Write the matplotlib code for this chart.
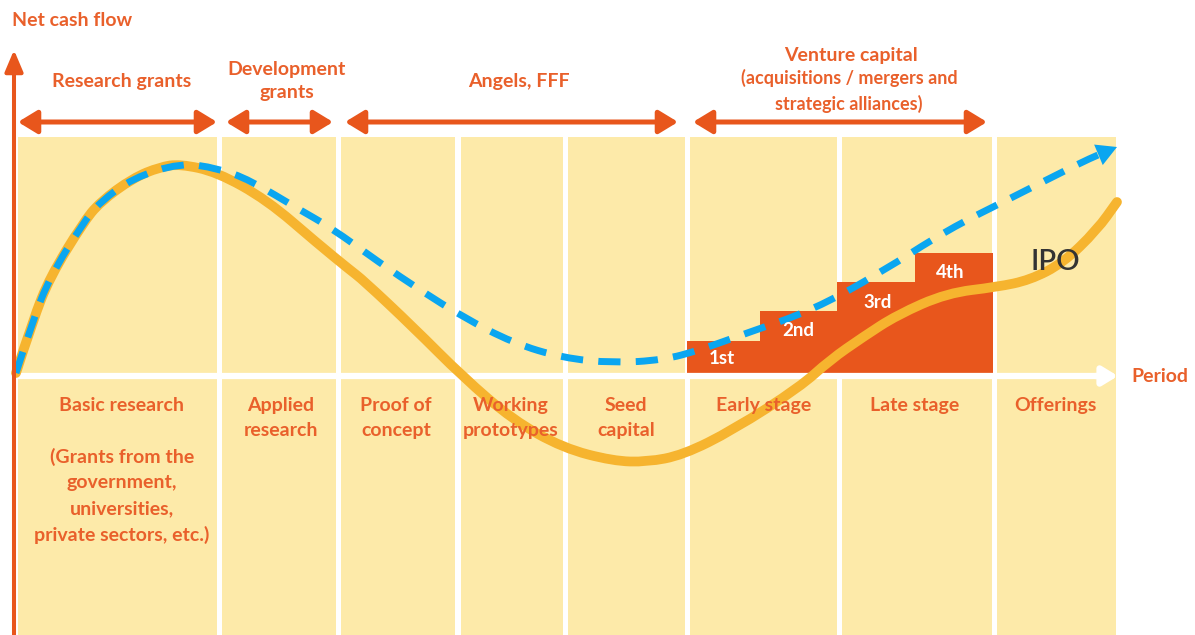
import matplotlib.pyplot as plt
from matplotlib.patches import Rectangle, FancyArrowPatch, PathPatch
from matplotlib.path import Path
import numpy as np

plt.rcParams['font.family'] = ['Lato', 'DejaVu Sans']

ORANGE = '#E8561C'
TEXT = '#E9602B'
PANEL = '#FDEAA9'
GOLD = '#F6B42F'
BLUE = '#0AA6F0'

# canvas: x in image columns, y = net cash flow (0 on the period axis)
AXIS_ROW = 376

def cf(row):
    return AXIS_ROW - np.asarray(row, dtype=float)

# stage panels (left, right)
panel_edges = [(18, 217), (222, 336), (341, 455), (461, 563),
               (568, 685), (690, 837), (842, 992), (997, 1116)]
panel_top = 137
stage_labels = ['Basic research', 'Applied\nresearch', 'Proof of\nconcept',
                'Working\nprototypes', 'Seed\ncapital', 'Early stage',
                'Late stage', 'Offerings']
stage_x = [122, 281, 396, 511, 626, 764, 915, 1055]

# funding sources across the top
funding_labels = ['Research grants', 'Development\ngrants', 'Angels, FFF']
funding_x = [122, 287, 519]
funding_spans = [(18, 217), (226, 333), (345, 678), (693, 987)]

# venture capital rounds
round_labels = ['1st', '2nd', '3rd', '4th']
round_left = [687, 760, 837, 915]
round_right = [760, 837, 915, 993]
round_top = [341, 311, 282, 253]
round_label_pos = [(722, 358), (798, 331), (878, 303), (950, 272)]

# actual cash flow curve (gold)
cash_x = [16, 33, 50, 83, 100, 133, 160, 180, 217, 267, 317, 350, 363, 413,
          463, 513, 563, 613, 647, 683, 733, 800, 830, 863, 897, 947, 997,
          1030, 1063, 1097, 1117]
cash_row = [373, 320, 277, 223, 202, 178, 167, 164, 172, 200, 243, 270, 280,
            327, 377, 420, 448, 461, 462, 455, 430, 387, 360, 337, 315, 293,
            287, 280, 263, 230, 202]

# expected cash flow curve (blue dashed)
exp_x = [16, 33, 50, 83, 100, 133, 180, 217, 250, 300, 330, 380, 420, 463,
         513, 563, 613, 663, 700, 747, 813, 880, 947, 1013, 1080, 1098]
exp_row = [373, 320, 277, 223, 202, 178, 163, 168, 180, 210, 227, 263, 290,
           317, 343, 358, 363, 360, 350, 333, 310, 273, 230, 197, 163, 155]


def smooth_path(xs, ys):
    # quadratic bezier chain using the read points as control points
    pts = np.column_stack([xs, ys])
    verts = [pts[0]]
    codes = [Path.MOVETO]
    for i in range(1, len(pts) - 1):
        verts += [pts[i], (pts[i] + pts[i + 1]) / 2]
        codes += [Path.CURVE3, Path.CURVE3]
    verts.append(pts[-1])
    codes.append(Path.LINETO)
    return Path(verts, codes)


fig = plt.figure(figsize=(11.95, 6.35), dpi=100)
ax = fig.add_axes([0, 0, 1, 1])
ax.set_xlim(0, 1195)
ax.set_ylim(cf(635), cf(0))
ax.axis('off')

# yellow panels
for left, right in panel_edges:
    ax.add_patch(Rectangle((left, cf(635)), right - left, cf(panel_top) - cf(635),
                           facecolor=PANEL, edgecolor='none', zorder=1))

# VC rounds as steps
for l, r, t, lab, (tx, ty) in zip(round_left, round_right, round_top,
                                  round_labels, round_label_pos):
    ax.add_patch(Rectangle((l, 0), r - l, cf(t), facecolor=ORANGE,
                           edgecolor='none', zorder=2))
    ax.text(tx, cf(ty), lab, color='white', fontsize=13.5, fontweight='bold',
            ha='center', va='center', zorder=6)

# period axis (white) with arrow
ax.plot([16, 1106], [0, 0], color='white', lw=4.5, zorder=3, solid_capstyle='butt')
ax.add_patch(FancyArrowPatch((1095, 0), (1118, 0),
                             arrowstyle='-|>,head_length=0.9,head_width=0.55',
                             mutation_scale=10, color='white', lw=4.5,
                             shrinkA=0, shrinkB=0, zorder=3))

# cash flow curves
ax.add_patch(PathPatch(smooth_path(cash_x, cf(cash_row)), facecolor='none',
                       edgecolor=GOLD, lw=7, capstyle='round', joinstyle='round',
                       zorder=4))
ax.add_patch(PathPatch(smooth_path(exp_x, cf(exp_row)), facecolor='none',
                       edgecolor=BLUE, lw=5, linestyle=(0, (3.2, 2.2)),
                       capstyle='butt', zorder=5))
ax.add_patch(FancyArrowPatch((exp_x[-1], cf(exp_row[-1])), (1117, cf(147)),
                             arrowstyle='-|>,head_length=1.45,head_width=0.8',
                             mutation_scale=10, color=BLUE, lw=0,
                             shrinkA=0, shrinkB=0, zorder=5))

# net cash flow axis
ax.add_patch(FancyArrowPatch((14, cf(635)), (14, cf(50)),
                             arrowstyle='-|>,head_length=1.3,head_width=0.55',
                             mutation_scale=10, color=ORANGE, lw=2.9,
                             shrinkA=0, shrinkB=0, zorder=6))

# funding arrows
for left, right in funding_spans:
    ax.add_patch(FancyArrowPatch((left, cf(122)), (right, cf(122)),
                                 arrowstyle='<|-|>,head_length=1.15,head_width=0.7',
                                 mutation_scale=10, color=ORANGE, lw=3.6,
                                 shrinkA=0, shrinkB=0, zorder=6))

txt = dict(color=TEXT, fontweight='bold', ha='center', zorder=7)
for lab, x in zip(funding_labels, funding_x):
    ax.text(x, cf(81), lab, va='center', fontsize=14, linespacing=1.48, **txt)
ax.text(851, cf(56), 'Venture capital', va='center', fontsize=14, **txt)
ax.text(849, cf(91), '(acquisitions / mergers and\nstrategic alliances)',
        va='center', fontsize=13, linespacing=1.47, **txt)

for lab, x in zip(stage_labels, stage_x):
    ax.text(x, cf(397), lab, va='top', fontsize=14, linespacing=1.6, **txt)
ax.text(122, cf(448), '(Grants from the\ngovernment,\nuniversities,\nprivate sectors, etc.)',
        va='top', fontsize=14, linespacing=1.6, **txt)

ax.text(12, cf(21), 'Net cash flow', color=TEXT, fontweight='bold', fontsize=14,
        ha='left', va='center')
ax.text(1131, cf(376), 'Period', color=TEXT, fontweight='bold', fontsize=14,
        ha='left', va='center')
ax.text(1031, cf(262), 'IPO', color='#333333', fontsize=21, fontweight='semibold',
        ha='left', va='center', zorder=7)

fig.savefig('out.png', dpi=100)
